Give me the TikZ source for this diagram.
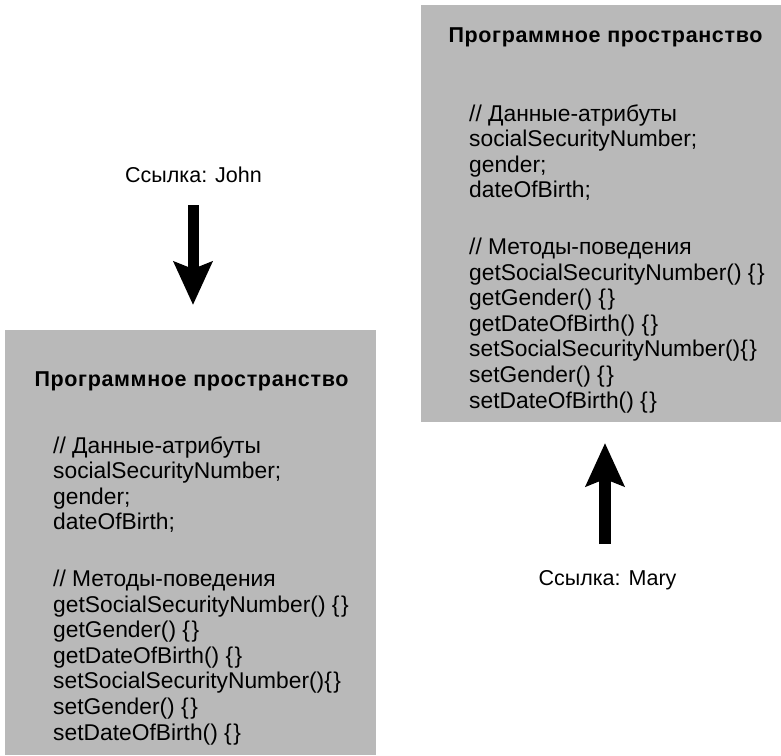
\documentclass[tikz,border=0pt]{standalone}
\usepackage{fontspec}
\setmainfont{Liberation Sans}
\usetikzlibrary{arrows.meta}
\definecolor{boxgray}{RGB}{185,185,185}
\newcommand{\br}{\{\kern1.5pt\}}
\tikzset{
  objbox/.style={fill=boxgray, draw=none, anchor=north west, inner sep=0pt, outer sep=0pt},
  ttl/.style={font=\fontsize{21.5}{24}\selectfont\bfseries\addfontfeature{LetterSpace=3}, anchor=base, inner sep=0pt},
  body/.style={font=\fontsize{22.8}{25.6}\selectfont, anchor=base west, inner sep=0pt},
  lbl/.style={font=\fontsize{21.5}{25.6}\selectfont, anchor=base, inner sep=0pt},
  refarrow/.style={line width=11pt, -{Stealth[length=43pt,width=38pt,inset=7pt]}}
}
\newcommand{\objtext}[3]{%
  \foreach \t [count=\i] in {{// Данные-атрибуты},{socialSecurityNumber;},{gender;},{dateOfBirth;}}
    \node[body] (#3a\i) at (#1, #2+25.6*\i-25.6) {\t};
  \foreach \t [count=\i] in {{// Методы-поведения},{getSocialSecurityNumber() \br},{getGender() \br},{getDateOfBirth() \br},{setSocialSecurityNumber()\br},{setGender() \br},{setDateOfBirth() \br}}
    \node[body] (#3m\i) at (#1, #2+133.4+25.6*\i-25.6) {\t};
}
\begin{document}
\begin{tikzpicture}[x=1pt,y=-1pt]
\useasboundingbox (0,0) rectangle (781,755);
% boxes
\node[objbox, minimum width=371pt, minimum height=425pt] (lbox) at (5,330) {};
\node[objbox, minimum width=360pt, minimum height=417pt] (rbox) at (421,5) {};
% titles
\node[ttl] (ltitle) at (191.5,386) {Программное пространство};
\node[ttl] (rtitle) at (605.5,42) {Программное пространство};
% bodies
\objtext{53}{453}{L}
\objtext{469}{121}{R}
% labels
\node[lbl] (john) at (193.5,182) {Ссылка: John};
\node[lbl] (mary) at (607.5,585) {Ссылка: Mary};
% arrows
\coordinate (j1) at (193,205);
\coordinate (j2) at (193,305);
\coordinate (m1) at (605,544);
\coordinate (m2) at (605,443);
\draw[refarrow] (j1) -- (j2);
\draw[refarrow, line width=12pt] (m1) -- (m2);
\end{tikzpicture}
\end{document}
